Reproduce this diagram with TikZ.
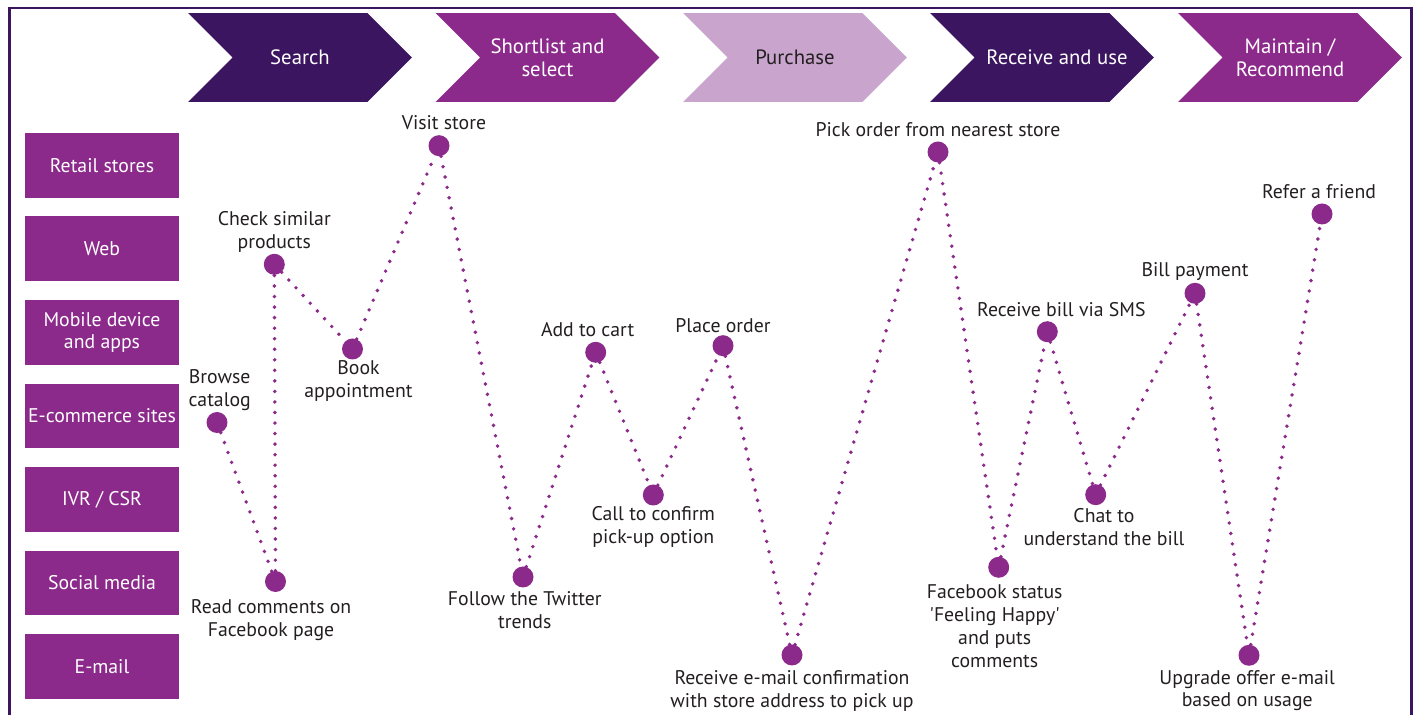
\documentclass[tikz,border=0pt]{standalone}
\usepackage{fontspec}
\setmainfont{PT Sans}
\usepackage{tikz}
\usetikzlibrary{positioning,shapes.symbols}
\definecolor{darkplum}{HTML}{3B1560}
\definecolor{plum}{HTML}{8B2A8B}
\definecolor{lightplum}{HTML}{C9A5CD}
\definecolor{inkgray}{HTML}{231F20}
\newcommand{\journeyfont}{\fontsize{11.25}{13}\selectfont}
\tikzstyle{stage} = [shape=signal,signal from=west,signal to=east,signal pointer angle=90,minimum width=4.48cm,minimum height=1.78cm,inner sep=0pt,align=center,text=white,font=\fontsize{11.8}{13}\selectfont]
\tikzstyle{channel} = [fill=plum,minimum width=3.08cm,minimum height=1.3cm,inner sep=0pt,align=center,text=white]
\tikzstyle{touch} = [circle,fill=plum,minimum size=0.42cm,inner sep=0pt]
\tikzstyle{lbl} = [align=center,inner sep=0pt,text=inkgray]
\tikzstyle{flat} = [text depth=0pt]
\tikzstyle{journey} = [draw=plum,line width=2.2pt,line cap=round,dash pattern=on 0pt off 6pt]

\begin{document}
\begin{tikzpicture}[x=0.02cm,y=-0.02cm,font=\journeyfont]
    \useasboundingbox (0,0) rectangle (1418,715);
    \draw[darkplum,line width=1.2pt] (9.5,715) -- (9.5,8.3) -- (1411.5,8.3) -- (1411.5,715);

    % stages
    \node[stage,fill=darkplum] (search) at (300,57.5) {Search};
    \node[stage,fill=plum] (shortlist) at (547.5,57.5) {Shortlist and\\select};
    \node[stage,fill=lightplum,text=inkgray] (purchase) at (795,57.5) {Purchase};
    \node[stage,fill=darkplum] (receive) at (1042,57.5) {\makebox[0pt]{\hspace*{0.6cm}Receive and use}};
    \node[stage,fill=plum] (maintain) at (1290,57.5) {Maintain /\\Recommend};

    % channels
    \node[channel] (retail) at (102,165.5) {Retail stores};
    \node[channel] (web) at (102,249) {Web};
    \node[channel] (mobile) at (102,332.5) {Mobile device\\and apps};
    \node[channel] (ecom) at (102,416) {E-commerce sites};
    \node[channel] (ivr) at (102,499.5) {IVR / CSR};
    \node[channel] (social) at (102,583) {Social media};
    \node[channel] (email) at (102,666.5) {E-mail};

    % touch points
    \node[touch] (browse) at (217,422.5) {};
    \node[touch] (readfb) at (275.5,581.5) {};
    \node[touch] (similar) at (274.3,264.3) {};
    \node[touch] (book) at (352.5,349) {};
    \node[touch] (visit) at (439,145.7) {};
    \node[touch] (twitter) at (523,577) {};
    \node[touch] (cart) at (595.7,352.3) {};
    \node[touch] (confirm) at (653.3,495) {};
    \node[touch] (order) at (723,345.7) {};
    \node[touch] (mailconf) at (792,655) {};
    \node[touch] (pick) at (938,152) {};
    \node[touch] (fbstatus) at (998.7,567.3) {};
    \node[touch] (sms) at (1047.3,331.7) {};
    \node[touch] (chat) at (1095.7,494.7) {};
    \node[touch] (bill) at (1195,293.3) {};
    \node[touch] (upgrade) at (1249,655.3) {};
    \node[touch] (refer) at (1322,214) {};

    \node[lbl,flat,above=2.8pt of browse,xshift=1.5pt] (browse-t) {Browse\\catalog};
    \node[lbl,below=4pt of readfb,xshift=-2.5pt] (readfb-t) {Read comments on\\Facebook page};
    \node[lbl,flat,above=2.8pt of similar] (similar-t) {Check similar\\products};
    \node[lbl,below=0.2pt of book,xshift=3.4pt] (book-t) {Book\\appointment};
    \node[lbl,above=2.8pt of visit,xshift=2.8pt] (visit-t) {Visit store};
    \node[lbl,below=2pt of twitter,xshift=1pt] (twitter-t) {Follow the Twitter\\trends};
    \node[lbl,above=2.2pt of cart,xshift=-4.6pt] (cart-t) {Add to cart};
    \node[lbl,above=1pt of order] (order-t) {Place order};
    \node[lbl,below=0.3pt of confirm] (confirm-t) {Call to confirm\\pick-up option};
    \node[lbl,below=2.3pt of mailconf] (mailconf-t) {Receive e-mail confirmation\\with store address to pick up};
    \node[lbl,above=2.5pt of pick] (pick-t) {Pick order from nearest store};
    \node[lbl,below=3.6pt of fbstatus,xshift=-2.3pt] (fbstatus-t) {Facebook status\\\textquotesingle Feeling Happy\textquotesingle\\and puts\\comments};
    \node[lbl,above=2.2pt of sms,xshift=8pt] (sms-t) {Receive bill via SMS};
    \node[lbl,below=1.4pt of chat,xshift=4.7pt] (chat-t) {Chat to\\understand the bill};
    \node[lbl,flat,above=3pt of bill] (bill-t) {Bill payment};
    \node[lbl,below=2pt of upgrade,xshift=-1pt] (upgrade-t) {Upgrade offer e-mail\\based on usage};
    \node[lbl,above=2.2pt of refer,xshift=-1.7pt] (refer-t) {Refer a friend};

    % journey
    \draw[journey] (browse) -- (readfb);
    \draw[journey] (readfb) -- (similar);
    \draw[journey] (similar) -- (book);
    \draw[journey] (book) -- (visit);
    \draw[journey] (visit) -- (twitter);
    \draw[journey] (twitter) -- (cart);
    \draw[journey] (cart) -- (confirm);
    \draw[journey] (confirm) -- (order);
    \draw[journey] (order) -- (mailconf);
    \draw[journey] (mailconf) -- (pick);
    \draw[journey] (pick) -- (fbstatus);
    \draw[journey] (fbstatus) -- (sms);
    \draw[journey] (sms) -- (chat);
    \draw[journey] (chat) -- (bill);
    \draw[journey] (bill) -- (upgrade);
    \draw[journey] (upgrade) -- (refer);

\end{tikzpicture}
\end{document}
